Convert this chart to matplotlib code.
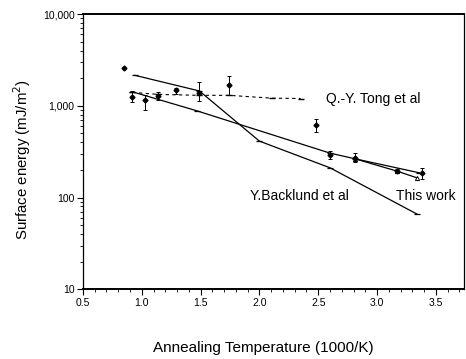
import numpy as np
import matplotlib
matplotlib.use('Agg')
import matplotlib.pyplot as plt
from matplotlib.ticker import NullFormatter, MultipleLocator

plt.rcParams['font.family'] = ['Liberation Sans', 'DejaVu Sans']

# scattered measured points (filled diamonds) with error bars
pts_x = [0.85, 0.92, 1.03, 1.14, 1.29, 1.49, 1.74, 2.48, 2.60, 2.81, 3.17, 3.38]
pts_y = [2550, 1250, 1150, 1280, 1480, 1390, 1680, 610, 290, 270, 194, 186]
pts_lo = [0, 160, 250, 130, 150, 260, 380, 90, 30, 25, 10, 25]
pts_hi = [0, 200, 150, 150, 100, 420, 420, 110, 30, 35, 10, 25]

# Q.-Y. Tong et al (dashed)
tong_x = [0.92, 1.14, 1.49, 1.74, 2.11, 2.35]
tong_y = [1400, 1330, 1300, 1300, 1210, 1200]

# Y.Backlund et al
back_x = [0.94, 1.49, 2.00, 2.60, 3.34]
back_y = [2150, 1450, 412, 211, 66]

# fit line
fit_x = [0.92, 1.47, 2.60, 2.81, 3.36]
fit_y = [1420, 880, 305, 265, 186]

# this work
work_x = [2.81, 3.17, 3.34]
work_y = [265, 194, 164]

fig = plt.figure(figsize=(4.66, 3.59), dpi=100)
ax = fig.add_axes([0.178, 0.194, 0.818, 0.767])

ax.plot(back_x, back_y, color='k', lw=0.9, marker='_', ms=5, mew=0.9)
ax.plot(fit_x, fit_y, color='k', lw=0.9, marker='_', ms=5, mew=0.9)
ax.plot(work_x, work_y, color='k', lw=0.9, marker='^', ms=3, mfc='white', mew=0.7)
ax.plot(tong_x, tong_y, color='k', lw=0.8, ls=(0, (3, 3)), marker='_', ms=4)
ax.errorbar(pts_x, pts_y, yerr=[pts_lo, pts_hi], fmt='D', ms=2.5, color='k',
            elinewidth=0.7, capsize=1.5, capthick=0.7)

ax.set_yscale('log')
ax.set_xlim(0.5, 3.74)
ax.set_ylim(10, 10000)

ax.set_xticks([0.5, 1.0, 1.5, 2.0, 2.5, 3.0, 3.5])
ax.set_xticklabels(['0.5', '1.0', '1.5', '2.0', '2.5', '3.0', '3.5'], fontsize=7.5)
ax.xaxis.set_minor_locator(MultipleLocator(0.1))
ax.set_yticks([10, 100, 1000, 10000])
ax.set_yticklabels(['10', '100', '1,000', '10,000'], fontsize=7.5)
ax.yaxis.set_minor_formatter(NullFormatter())
ax.tick_params(which='major', length=4, width=0.8, pad=2)
ax.tick_params(which='minor', length=2, width=0.6)
for s in ax.spines.values():
    s.set_linewidth(0.9)
ax.spines['top'].set_linewidth(1.4)
ax.spines['bottom'].set_linewidth(1.4)

ax.text(2.57, 1200, 'Q.-Y. Tong et al', fontsize=10, va='center', ha='left')
ax.text(1.92, 103, 'Y.Backlund et al', fontsize=10, va='center', ha='left')
ax.text(3.16, 103, 'This work', fontsize=10, va='center', ha='left')

ax.set_ylabel('Surface energy (mJ/m$^2$)', fontsize=10.8)
ax.yaxis.set_label_coords(-0.131, 0.47)
ax.set_xlabel('Annealing Temperature (1000/K)', fontsize=11)
ax.xaxis.set_label_coords(0.472, -0.187)

fig.savefig('out.png', dpi=100)
